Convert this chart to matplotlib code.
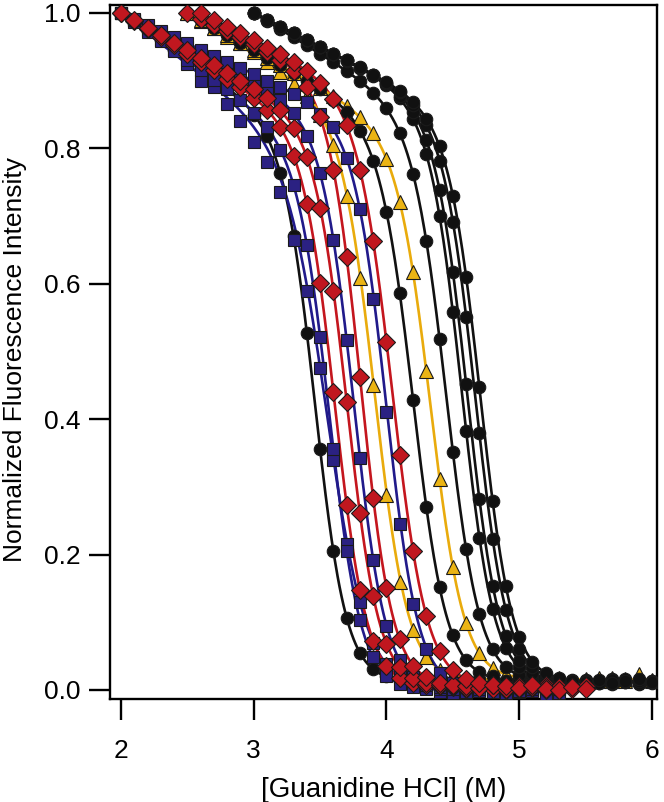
import numpy as np
import matplotlib
matplotlib.use("Agg")
import matplotlib.pyplot as plt

plt.rcParams['font.family'] = ['Liberation Sans', 'DejaVu Sans']

# ---- data: guanidine HCl concentrations (M) and normalized intensities ----
conc = [2.0, 2.1, 2.2, 2.3, 2.4, 2.5, 2.6, 2.7, 2.8, 2.9,
        3.0, 3.1, 3.2, 3.3, 3.4, 3.5, 3.6, 3.7, 3.8, 3.9,
        4.0, 4.1, 4.2, 4.3, 4.4, 4.5, 4.6, 4.7, 4.8, 4.9,
        5.0, 5.1, 5.2, 5.3, 5.4, 5.5, 5.6, 5.7, 5.8, 5.9, 6.0]

black_a = [1.000, 0.987, 0.973, 0.960, 0.946, 0.933, 0.919, 0.905, 0.890, 0.873,
           0.850, 0.818, 0.763, 0.670, 0.528, 0.356, 0.205, 0.107, 0.055, 0.031,
           0.020, 0.017, 0.010, 0.015, 0.009, 0.014, 0.011, 0.016, 0.010, 0.013, 0.012]
navy_1 = [1.000, 0.990, 0.975, 0.960, 0.945, 0.925, 0.900, 0.890, 0.866, 0.840,
          0.810, 0.780, 0.735, 0.665, 0.590, 0.475, 0.340, 0.215, 0.130, 0.070,
          0.038, 0.019, 0.010, 0.004, -0.003, 0.002, -0.004, 0.001, -0.002, 0.003,
          -0.001, 0.000, -0.003, 0.001]
navy_2 = [1.000, 0.986, 0.972, 0.958, 0.944, 0.930, 0.916, 0.901, 0.887, 0.871,
          0.853, 0.831, 0.798, 0.746, 0.657, 0.522, 0.356, 0.205, 0.103, 0.048,
          0.021, 0.009, 0.004, 0.002, 0.001, -0.004, 0.003, -0.002, 0.000, 0.004,
          -0.003, 0.001, -0.005, 0.002]
red_1 = [1.000, 0.988, 0.976, 0.964, 0.952, 0.940, 0.928, 0.916, 0.903, 0.890,
         0.875, 0.857, 0.831, 0.789, 0.718, 0.601, 0.440, 0.273, 0.147, 0.073,
         0.036, 0.018, 0.011, 0.007, 0.006, 0.005, 0.002, 0.008, 0.004, 0.000,
         0.006, 0.003, 0.007, 0.001, 0.005, 0.004]
red_2 = [1.000, 0.989, 0.978, 0.967, 0.956, 0.945, 0.934, 0.923, 0.912, 0.900,
         0.888, 0.874, 0.856, 0.830, 0.787, 0.712, 0.590, 0.426, 0.261, 0.139,
         0.068, 0.034, 0.017, 0.010, 0.007, 0.006, 0.003, 0.008, 0.002, 0.006,
         0.001, 0.007, 0.004, 0.000, 0.005, 0.003]
navy_3 = [1.000, 0.990, 0.980, 0.970, 0.960, 0.950, 0.940, 0.930, 0.920, 0.909,
          0.898, 0.886, 0.872, 0.852, 0.819, 0.763, 0.665, 0.517, 0.342, 0.192,
          0.095, 0.044, 0.019, 0.008, 0.004, 0.002, -0.003, 0.004, 0.000, -0.005,
          0.002, -0.002, 0.003, -0.004]
red_3 = [1.000, 0.991, 0.982, 0.973, 0.964, 0.954, 0.943, 0.931, 0.915, 0.890,
         0.846, 0.768, 0.639, 0.462, 0.284, 0.151, 0.075, 0.036, 0.019, 0.011,
         0.008, 0.006, 0.003, 0.007, 0.002, 0.006, 0.004, 0.000, 0.005, 0.002, 0.006]
yellow_1 = [1.000, 0.988, 0.978, 0.965, 0.955, 0.942, 0.928, 0.913, 0.895, 0.878,
            0.850, 0.805, 0.730, 0.608, 0.450, 0.288, 0.160, 0.088, 0.048, 0.030,
            0.022, 0.018, 0.016, 0.014, 0.017, 0.013, 0.016, 0.014, 0.018, 0.012,
            0.015, 0.017, 0.013, 0.016, 0.022, 0.014]
navy_4 = [1.000, 0.991, 0.982, 0.973, 0.964, 0.955, 0.946, 0.937, 0.928, 0.919,
          0.910, 0.900, 0.891, 0.880, 0.868, 0.851, 0.832, 0.786, 0.710, 0.578,
          0.410, 0.245, 0.127, 0.060, 0.025, 0.011, 0.005, 0.002, -0.003, 0.004,
          -0.002, 0.001, -0.006, 0.002]
red_4 = [1.000, 0.990, 0.980, 0.970, 0.960, 0.949, 0.939, 0.927, 0.914, 0.897,
         0.873, 0.834, 0.768, 0.663, 0.514, 0.347, 0.205, 0.110, 0.057, 0.029,
         0.016, 0.010, 0.007, 0.006, 0.003, 0.007, 0.002, 0.000, 0.005, 0.001]
black_c = [1.000, 0.989, 0.978, 0.967, 0.956, 0.945, 0.934, 0.923, 0.911, 0.900,
           0.887, 0.872, 0.854, 0.826, 0.782, 0.706, 0.586, 0.429, 0.271, 0.152,
           0.081, 0.044, 0.027, 0.020, 0.013, 0.016, 0.010, 0.014, 0.011, 0.015, 0.012]
yellow_2 = [1.000, 0.989, 0.978, 0.967, 0.956, 0.945, 0.934, 0.923, 0.912, 0.901,
            0.889, 0.877, 0.863, 0.846, 0.822, 0.784, 0.721, 0.617, 0.471, 0.312,
            0.181, 0.099, 0.054, 0.033, 0.023, 0.019, 0.017, 0.016, 0.015, 0.013,
            0.016, 0.014, 0.018, 0.013, 0.024, 0.015]
black_d = [1.000, 0.988, 0.976, 0.964, 0.952, 0.940, 0.927, 0.914, 0.899, 0.882,
           0.859, 0.823, 0.762, 0.663, 0.519, 0.352, 0.208, 0.112, 0.060, 0.034,
           0.022, 0.018, 0.012, 0.015, 0.010, 0.014, 0.011, 0.016, 0.012, 0.009, 0.013]
black_e1 = [1.000, 0.990, 0.980, 0.970, 0.960, 0.950, 0.940, 0.929, 0.919, 0.907,
            0.893, 0.874, 0.843, 0.791, 0.700, 0.558, 0.383, 0.225, 0.119, 0.062,
            0.034, 0.022, 0.016, 0.014, 0.010, 0.015, 0.012, 0.009, 0.014, 0.011, 0.013]
black_e2 = [1.000, 0.990, 0.980, 0.970, 0.960, 0.950, 0.940, 0.930, 0.919, 0.908,
            0.895, 0.878, 0.854, 0.812, 0.739, 0.618, 0.452, 0.282, 0.154, 0.080,
            0.043, 0.025, 0.018, 0.015, 0.013, 0.010, 0.014, 0.012, 0.016, 0.011, 0.012]
black_e3 = [1.000, 0.990, 0.980, 0.970, 0.960, 0.950, 0.940, 0.930, 0.919, 0.909,
            0.897, 0.883, 0.864, 0.834, 0.782, 0.692, 0.551, 0.379, 0.223, 0.118,
            0.061, 0.034, 0.022, 0.016, 0.014, 0.013, 0.010, 0.015, 0.012, 0.014, 0.011]
black_e4 = [1.000, 0.990, 0.980, 0.970, 0.960, 0.950, 0.940, 0.930, 0.920, 0.909,
            0.898, 0.885, 0.868, 0.844, 0.803, 0.730, 0.610, 0.447, 0.279, 0.153,
            0.079, 0.042, 0.025, 0.018, 0.014, 0.012, 0.015, 0.011, 0.013, 0.016, 0.012]

series_values = [black_a, navy_1, navy_2, red_1, red_2, navy_3, red_3,
                 yellow_1, navy_4, red_4, black_c, yellow_2, black_d,
                 black_e1, black_e2, black_e3, black_e4]
series_start = [2.0, 2.0, 2.0, 2.0, 2.0, 2.0, 2.5, 2.5, 2.0, 2.6, 2.5, 2.5, 3.0,
                3.0, 3.0, 3.0, 3.0]
series_kind = ['black', 'navy', 'navy', 'red', 'red', 'navy', 'red', 'yellow', 'navy',
               'red', 'black', 'yellow', 'black', 'black', 'black', 'black', 'black']

# two-state fit parameters per series (midpoint, width, native-baseline slope, unfolded level)
fit_cm = [3.47, 3.57, 3.58, 3.62, 3.71, 3.76, 3.81, 3.92, 4.005, 4.05, 4.21, 4.34, 4.46,
          4.575, 4.615, 4.675, 4.715]
fit_w = [0.118, 0.15, 0.12, 0.12, 0.12, 0.12, 0.12, 0.125, 0.12, 0.13, 0.125, 0.125, 0.125,
         0.12, 0.12, 0.12, 0.12]
fit_slope = [0.134, 0.15, 0.14, 0.12, 0.11, 0.10, 0.09, 0.12, 0.09, 0.10, 0.11, 0.11, 0.12,
             0.10, 0.10, 0.10, 0.10]
fit_unf = [0.012, 0.0, 0.0, 0.005, 0.005, 0.0, 0.005, 0.015, 0.0, 0.005, 0.012, 0.015, 0.012,
           0.012, 0.012, 0.012, 0.012]

# ---- style ----
line_color = {'black': '#111111', 'navy': '#211a8a', 'red': '#c4161e', 'yellow': '#e9ab0c'}
face_color = {'black': '#111111', 'navy': '#2b2182', 'red': '#c0171f', 'yellow': '#ebb414'}
marker = {'black': 'o', 'navy': 's', 'red': 'D', 'yellow': '^'}
msize = {'black': 9.0, 'navy': 9.0, 'red': 9.2, 'yellow': 10.5}
mz = {'yellow': 3, 'black': 3.5, 'navy': 4, 'red': 6}


def two_state(x, x0, cm, w, s, u):
    f = 1.0 / (1.0 + np.exp((x - cm) / w))
    return (1 - s * (x - x0)) * f + u * (1 - f)


fig = plt.figure(figsize=(6.64, 8.02), dpi=100)
ax = fig.add_axes([110/664, 1-699/802, 547/664, 694/802])
ax.set_xlim(1.917, 6.038)
ax.set_ylim(-0.0133, 1.0118)

for i, ys in enumerate(series_values):
    k = series_kind[i]
    i0 = conc.index(series_start[i])
    xs = conc[i0:i0 + len(ys)]
    xf = np.linspace(xs[0], xs[-1], 400)
    ax.plot(xf, two_state(xf, xs[0], fit_cm[i], fit_w[i], fit_slope[i], fit_unf[i]),
            color=line_color[k], lw=1.9, zorder=2)

for i, ys in enumerate(series_values):
    k = series_kind[i]
    i0 = conc.index(series_start[i])
    xs = conc[i0:i0 + len(ys)]
    ax.plot(xs, ys, ls='none', marker=marker[k], ms=msize[k], mfc=face_color[k],
            mec='#1a1a1a', mew=0.8, zorder=mz[k])

for sp in ax.spines.values():
    sp.set_linewidth(1.7)
ax.set_xticks([2, 3, 4, 5, 6])
ax.set_xticklabels(['2', '3', '4', '5', '6'])
ax.set_yticks([0, 0.2, 0.4, 0.6, 0.8, 1.0])
ax.set_yticklabels(['0.0', '0.2', '0.4', '0.6', '0.8', '1.0'])
ax.tick_params(axis='x', direction='out', length=15, width=1.7, pad=14, labelsize=19)
ax.tick_params(axis='y', direction='out', length=15, width=1.7, pad=6, labelsize=19)
ax.set_xlabel('[Guanidine HCl] (M)', fontsize=20, labelpad=10)
ax.set_ylabel('Normalized Fluorescence Intensity', fontsize=19)
ax.yaxis.set_label_coords(-0.152, 0.489)

fig.savefig('out.png', dpi=100)
